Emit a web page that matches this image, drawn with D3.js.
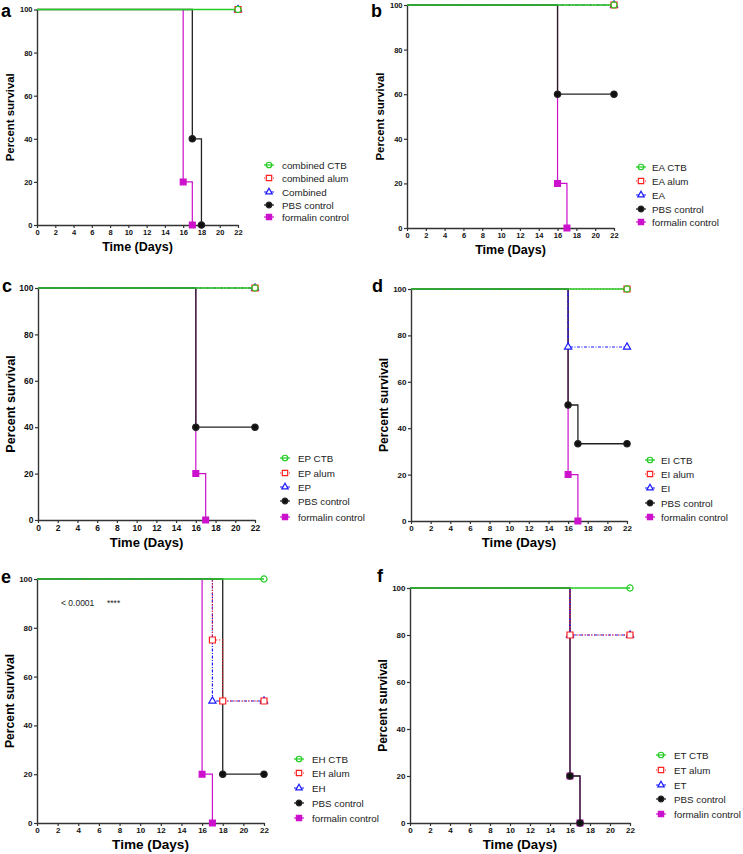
<!DOCTYPE html>
<html>
<head>
<meta charset="utf-8">
<script src="https://cdn.jsdelivr.net/npm/d3@7"></script>
<style>
  body { margin: 0; background: #fff; }
  svg { display: block; font-family: "Liberation Sans", Arial, sans-serif; }
</style>
</head>
<body>
<svg width="743" height="854"></svg>
<script>
// Tick values shared by all panels.
const dayTicks = [0, 2, 4, 6, 8, 10, 12, 14, 16, 18, 20, 22];
const percentTicks = [0, 20, 40, 60, 80, 100];

// Panel letters and legend names.
const panelLetters = ["a", "b", "c", "d", "e", "f"];
const legendNames = [
    ["combined CTB", "combined alum", "Combined", "PBS control", "formalin control"],
    ["EA CTB", "EA alum", "EA", "PBS control", "formalin control"],
    ["EP CTB", "EP alum", "EP", "PBS control", "formalin control"],
    ["EI CTB", "EI alum", "EI", "PBS control", "formalin control"],
    ["EH CTB", "EH alum", "EH", "PBS control", "formalin control"],
    ["ET CTB", "ET alum", "ET", "PBS control", "formalin control"]
];

// Survival steps [day, percent] per panel, series order: CTB, alum, antigen, PBS, formalin.
const survivalA = [
    [[0, 100], [22, 100]],
    [[0, 100], [22, 100]],
    [[0, 100], [22, 100]],
    [[0, 100], [17, 40], [18, 0]],
    [[0, 100], [16, 20], [17, 0]]
];
const survivalB = [
    [[0, 100], [22, 100]],
    [[0, 100], [22, 100]],
    [[0, 100], [22, 100]],
    [[0, 100], [16, 60], [22, 60]],
    [[0, 100], [16, 20], [17, 0]]
];
const survivalC = [
    [[0, 100], [22, 100]],
    [[0, 100], [22, 100]],
    [[0, 100], [22, 100]],
    [[0, 100], [16, 40], [22, 40]],
    [[0, 100], [16, 20], [17, 0]]
];
const survivalD = [
    [[0, 100], [22, 100]],
    [[0, 100], [22, 100]],
    [[0, 100], [16, 75], [22, 75]],
    [[0, 100], [16, 50], [17, 33.3], [22, 33.3]],
    [[0, 100], [16, 20], [17, 0]]
];
const survivalE = [
    [[0, 100], [22, 100]],
    [[0, 100], [17, 75], [18, 50], [22, 50]],
    [[0, 100], [17, 50], [22, 50]],
    [[0, 100], [18, 20], [22, 20]],
    [[0, 100], [16, 20], [17, 0]]
];
const survivalF = [
    [[0, 100], [22, 100]],
    [[0, 100], [16, 80], [22, 80]],
    [[0, 100], [16, 80], [22, 80]],
    [[0, 100], [16, 20], [17, 0]],
    [[0, 100], [16, 20], [17, 0]]
];
const panelSurvival = [survivalA, survivalB, survivalC, survivalD, survivalE, survivalF];

// Log-rank annotation (panel e only).
const annotationP = "< 0.0001";
const annotationStars = "****";

// Layout of each panel (pixels).
const panels = [
    { x0: 37,  x1: 238, yTop: 9.5, yBot: 225, tick: 7.5, yTitle: 10.4, xTitle: 10.5, legX: 269, legTx: 282, legY: [165, 178, 192, 205, 217], letter: [1, 17] },
    { x0: 407, x1: 614, yTop: 5,   yBot: 228, tick: 7.5, yTitle: 10.4, xTitle: 10.5, legX: 641, legTx: 652, legY: [167, 181, 195, 209, 222], letter: [371, 17] },
    { x0: 38,  x1: 255, yTop: 288, yBot: 520, tick: 8.5, yTitle: 11.6, xTitle: 11,   legX: 285, legTx: 298, legY: [458, 473, 487, 501, 517], letter: [2, 292] },
    { x0: 411, x1: 627, yTop: 289, yBot: 521, tick: 8,   yTitle: 11.2, xTitle: 11.2, legX: 650, legTx: 661, legY: [460, 474, 488, 503, 517], letter: [372, 292] },
    { x0: 37,  x1: 264, yTop: 579, yBot: 823, tick: 8,   yTitle: 11.2, xTitle: 11.6, legX: 299, legTx: 312, legY: [759, 773, 788, 803, 818], letter: [1, 583] },
    { x0: 410, x1: 630, yTop: 588, yBot: 823, tick: 8,   yTitle: 11,   xTitle: 11.2, legX: 661, legTx: 674, legY: [755, 770, 785, 799, 814], letter: [377, 582] }
];

// Series styles, same order as the data.
const styles = [
    { color: "#22cc22", dash: null,      width: 1.5, symbol: d3.symbolCircle,   fill: "none", size: 30 },
    { color: "#ff2020", dash: "1.2,1.8", width: 1.2, symbol: d3.symbolSquare,   fill: "#fff", size: 36 },
    { color: "#1a1aff", dash: "3,1.5,1,1.5", width: 1.2, symbol: d3.symbolTriangle, fill: "#fff", size: 22 },
    { color: "#222222", dash: null,      width: 1.3, symbol: d3.symbolCircle,   fill: "#111", size: 32 },
    { color: "#cc11cc", dash: null,      width: 1.2, symbol: d3.symbolSquare,   fill: "#cc11cc", size: 34 }
];

const svg = d3.select("svg");

function drawPanel(p, i) {
    const data = panelSurvival[i];
    const g = svg.append("g");

    const xScale = d3.scaleLinear().domain([0, 22]).range([p.x0, p.x1]);
    const yScale = d3.scaleLinear().domain([0, 100]).range([p.yBot, p.yTop]);

    // X axis
    const xAxis = g.append("g")
        .attr("transform", `translate(0,${p.yBot})`)
        .call(d3.axisBottom(xScale).tickValues(dayTicks).tickSize(3).tickPadding(1.5).tickSizeOuter(0));
    // Y axis
    const yAxis = g.append("g")
        .attr("transform", `translate(${p.x0},0)`)
        .call(d3.axisLeft(yScale).tickValues(percentTicks).tickSize(3).tickPadding(1.5).tickSizeOuter(0));

    [xAxis, yAxis].forEach(ax => {
        ax.select(".domain").attr("stroke", "#333").attr("stroke-width", 1.4);
        ax.selectAll(".tick line").attr("stroke", "#333").attr("stroke-width", 1.2);
        ax.selectAll("text")
          .style("font-size", p.tick + "px")
          .style("font-weight", "bold")
          .style("font-family", "'Liberation Sans', Arial, sans-serif")
          .attr("fill", "#111");
    });

    // Axis titles
    g.append("text")
     .attr("x", (p.x0 + p.x1) / 2)
     .attr("y", p.yBot + p.tick + 18)
     .attr("text-anchor", "middle")
     .style("font-size", p.xTitle + 2 + "px")
     .style("font-weight", "bold")
     .text("Time (Days)");

    g.append("text")
     .attr("transform", `translate(${p.x0 - 23},${(p.yTop + p.yBot) / 2}) rotate(-90)`)
     .attr("text-anchor", "middle")
     .style("font-size", p.yTitle + 1 + "px")
     .style("font-weight", "bold")
     .text("Percent survival");

    // Panel letter
    g.append("text")
     .attr("x", p.letter[0])
     .attr("y", p.letter[1])
     .style("font-size", "18px")
     .style("font-weight", "bold")
     .text(panelLetters[i]);

    const line = d3.line()
        .curve(d3.curveStepAfter)
        .x(d => xScale(d[0]))
        .y(d => yScale(d[1]));

    // Draw last series first, so the first one ends on top
    for (let s = data.length - 1; s >= 0; s--) {
        const st = styles[s];
        g.append("path")
         .datum(data[s])
         .attr("fill", "none")
         .attr("stroke", st.color)
         .attr("stroke-width", st.width)
         .attr("stroke-dasharray", st.dash)
         .attr("d", line);
    }
    for (let s = data.length - 1; s >= 0; s--) {
        const st = styles[s];
        g.selectAll(null)
         .data(data[s].slice(1))
         .enter()
         .append("path")
         .attr("transform", d => `translate(${xScale(d[0])},${yScale(d[1])})`)
         .attr("d", d3.symbol().type(st.symbol).size(st.size))
         .attr("fill", st.fill)
         .attr("stroke", st.color)
         .attr("stroke-width", 1.2);
    }

    // Legend
    const legend = g.selectAll(".legend-item")
        .data(legendNames[i])
        .enter()
        .append("g")
        .attr("transform", (d, k) => `translate(${p.legX},${p.legY[k]})`);

    legend.append("line")
          .attr("x1", -5).attr("x2", 5)
          .attr("stroke", (d, k) => styles[k].color)
          .attr("stroke-width", 1.2)
          .attr("stroke-dasharray", (d, k) => styles[k].dash);
    legend.append("path")
          .attr("d", (d, k) => d3.symbol().type(styles[k].symbol).size(styles[k].size * 0.8)())
          .attr("fill", (d, k) => styles[k].fill)
          .attr("stroke", (d, k) => styles[k].color)
          .attr("stroke-width", 1.2);
    legend.append("text")
          .attr("x", p.legTx - p.legX)
          .attr("y", 3.5)
          .style("font-size", "9.8px")
          .attr("fill", "#222")
          .text(d => d);

    if (i === 4) {
        g.append("text")
         .attr("x", 61).attr("y", 606)
         .style("font-size", "8.5px").attr("fill", "#222")
         .text(annotationP);
        g.append("text")
         .attr("x", 107).attr("y", 606)
         .style("font-size", "8.5px").attr("fill", "#222")
         .text(annotationStars);
    }
}

panels.forEach(drawPanel);
</script>
</body>
</html>
